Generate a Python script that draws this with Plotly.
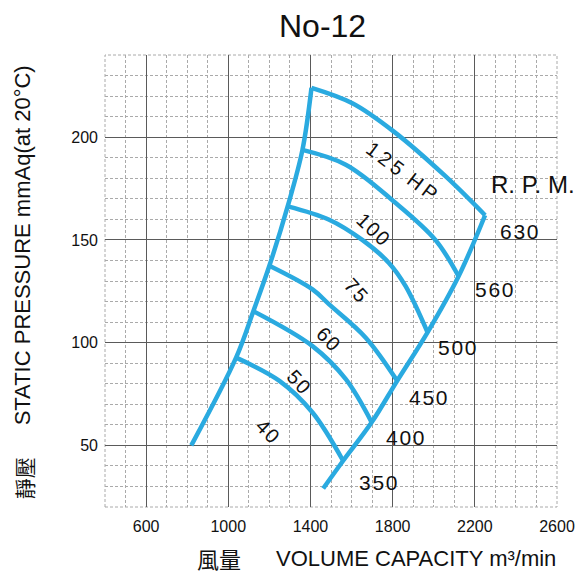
import plotly.graph_objects as go

# ---- data ----
left_x = [820, 1038, 1122, 1200, 1289, 1361, 1405]
left_y = [50, 92.7, 115.3, 137.4, 166.3, 193.8, 224]

right_x = [1462, 1559, 1698, 1822, 1970, 2121, 2250]
right_y = [29, 42.5, 61.2, 81.4, 105, 132.3, 162]

arc_top_x = [1405, 1604, 1806, 2057, 2250]
arc_top_y = [224, 216.5, 202.7, 181, 162]
arc_125_x = [1361, 1572, 1806, 2008, 2121]
arc_125_y = [193.8, 186.6, 168.7, 150, 132.3]
arc_100_x = [1289, 1491, 1652, 1782, 1863, 1970]
arc_100_y = [166.3, 159.8, 150, 138.8, 127.5, 105]
arc_75_x = [1200, 1410, 1491, 1669, 1822]
arc_75_y = [137.4, 125.9, 118.6, 102.4, 81.4]
arc_60_x = [1122, 1410, 1572, 1698]
arc_60_y = [115.3, 98.3, 82.2, 61.2]
arc_50_x = [1038, 1249, 1410, 1559]
arc_50_y = [92.7, 81.4, 66, 42.5]

hp_labels = ["1\u20092\u20095\u2002H\u2009P", "1\u200a0\u200a0", "7\u200a5", "6\u200a0", "5\u200a0", "4\u200a0"]
hp_x = [1842, 1705, 1620, 1487, 1345, 1192]
hp_y = [183.3, 155.4, 125.5, 101.6, 81, 57.1]
hp_angle = [37, 43, 48, 45, 47, 45]

rpm_labels = ["630", "560", "500", "450", "400", "350"]
rpm_x = [2417, 2296, 2116, 1976, 1864, 1733]
rpm_y = [154.0, 125.9, 97.7, 73.4, 54.0, 31.7]

x_ticks = [600, 1000, 1400, 1800, 2200, 2600]
y_ticks = [50, 100, 150, 200]

# ---- style ----
OFF = 8  # page body margin of the browser
W, H = 579, 567
ML, MT = 105 - OFF, 55 - OFF
PW, PH = 454, 452
MR, MB = W - ML - PW, H - MT - PH
BLUE = "#2AAAE0"
FONT = "Liberation Sans, Arial, sans-serif"
CJK = "Noto Sans CJK TC, Noto Sans CJK SC, sans-serif"


def px_to_paper(px, py):
    # page pixel -> paper coordinates
    return (px - OFF - ML) / PW, 1 - (py - OFF - MT) / PH


fig = go.Figure()
for xs, ys in [(left_x, left_y), (right_x, right_y), (arc_top_x, arc_top_y),
               (arc_125_x, arc_125_y), (arc_100_x, arc_100_y), (arc_75_x, arc_75_y),
               (arc_60_x, arc_60_y), (arc_50_x, arc_50_y)]:
    fig.add_trace(go.Scatter(x=xs, y=ys, mode="lines",
                             line=dict(color=BLUE, width=4.5, shape="spline", smoothing=1.0),
                             hoverinfo="skip", showlegend=False))

annotations = []
for t, x, y, a in zip(hp_labels, hp_x, hp_y, hp_angle):
    annotations.append(dict(x=x, y=y, xref="x", yref="y", text=t, showarrow=False,
                            xanchor="center", yanchor="middle",
                            textangle=a, font=dict(family=FONT, size=20, color="#111")))
for t, x, y in zip(rpm_labels, rpm_x, rpm_y):
    annotations.append(dict(x=x, y=y, xref="x", yref="y", text="\u200a".join(t), showarrow=False,
                            xanchor="center", yanchor="middle",
                            font=dict(family=FONT, size=21, color="#111")))
annotations.append(dict(x=2485, y=176.8, xref="x", yref="y", text="R. P. M.", showarrow=False,
                        xanchor="center", yanchor="middle",
                        font=dict(family=FONT, size=24, color="#111")))


def page_text(text, px, py, size, family=FONT, angle=0, xanchor="center"):
    x, y = px_to_paper(px, py)
    annotations.append(dict(x=x, y=y, xref="paper", yref="paper", text=text, showarrow=False,
                            xanchor=xanchor, yanchor="middle", textangle=angle,
                            font=dict(family=family, size=size, color="#111")))


page_text("No-12", 323, 26, 32)
page_text("STATIC PRESSURE mmAq(at 20°C)", 22, 245, 22, angle=-90)
page_text("靜壓", 24, 478, 21, family=CJK, angle=-90)
page_text("風量", 220, 558, 22, family=CJK)
page_text("VOLUME CAPACITY m³/min", 275, 558, 22, xanchor="left")

fig.update_layout(
    width=W, height=H,
    margin=dict(l=ML, r=MR, t=MT, b=MB, pad=0),
    paper_bgcolor="white", plot_bgcolor="white",
    annotations=annotations,
    xaxis=dict(range=[400, 2600], tickmode="array", tickvals=x_ticks,
               ticktext=[str(v) for v in x_ticks],
               showgrid=True, gridcolor="#5a5a5a", gridwidth=1, zeroline=False,
               showline=False, ticks="", ticklabelstandoff=8,
               tickfont=dict(family=FONT, size=16, color="#111"),
               minor=dict(dtick=100, tick0=400, showgrid=True, gridcolor="#aaaaaa",
                          griddash="3px,2px", gridwidth=1)),
    yaxis=dict(range=[20, 240], tickmode="array", tickvals=y_ticks,
               ticktext=[str(v) for v in y_ticks],
               showgrid=True, gridcolor="#5a5a5a", gridwidth=1, zeroline=False,
               showline=False, ticks="", ticklabelstandoff=6,
               tickfont=dict(family=FONT, size=16, color="#111"),
               minor=dict(dtick=10, tick0=20, showgrid=True, gridcolor="#aaaaaa",
                          griddash="3px,2px", gridwidth=1)),
)
fig.add_shape(type="rect", xref="paper", yref="paper", x0=0, y0=0, x1=1, y1=1,
              line=dict(color="#aaaaaa", width=1, dash="3px,2px"), layer="below")

fig.write_html("out.html")
